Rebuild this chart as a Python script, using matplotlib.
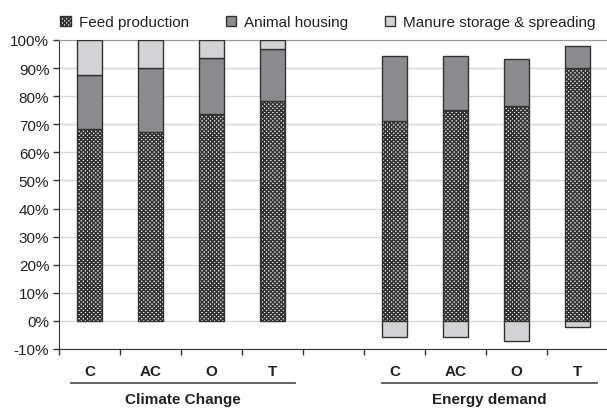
import matplotlib
matplotlib.use("Agg")
import matplotlib.pyplot as plt
import numpy as np

plt.rcParams["font.family"] = ["Liberation Sans", "DejaVu Sans"]
plt.rcParams["hatch.linewidth"] = 1.1
plt.rcParams["hatch.color"] = "#333333"

# slot 4 is an empty spacer between the two groups
categories = ["C", "AC", "O", "T", "", "C", "AC", "O", "T"]
groups = ["Climate Change", "Energy demand"]
feed = [68.2, 67.1, 73.7, 78.3, 0, 71.2, 75.2, 76.5, 90.2]
housing = [19.4, 22.8, 19.8, 18.5, 0, 23.0, 19.0, 16.7, 7.7]
manure = [12.4, 10.1, 6.5, 3.2, 0, -5.8, -5.8, -7.1, -2.3]
yticks = [-10, 0, 10, 20, 30, 40, 50, 60, 70, 80, 90, 100]

fig = plt.figure(figsize=(6.07, 4.10), dpi=100)
ax = fig.add_axes([59 / 607, 60 / 410, 549 / 607, 309 / 410])

x = np.arange(len(categories))
idx = [i for i, c in enumerate(categories) if c]
xs = x[idx]
f = np.array(feed)[idx]
h = np.array(housing)[idx]
m = np.array(manure)[idx]
w = 0.42
edge = "#333333"

ax.bar(xs, f, w, color="#eeeeee", hatch="xxxxxxxx", edgecolor=edge, linewidth=1.0,
       label="Feed production", zorder=3)
ax.bar(xs, h, w, bottom=f, color="#8b8b8f", edgecolor=edge, linewidth=1.0,
       label="Animal housing", zorder=3)
# manure stacks on top when positive, below zero when negative
mb = np.where(m >= 0, f + h, 0)
ax.bar(xs, m, w, bottom=mb, color="#d3d3d5", edgecolor=edge, linewidth=1.0,
       label="Manure storage & spreading", zorder=3)

ax.set_xlim(-0.5, len(categories) - 0.5)
ax.set_ylim(-10, 100)
ax.set_yticks(yticks)
ax.set_yticklabels([f"{v}%" for v in yticks], fontsize=11, color="#222222")
ax.yaxis.grid(True, color="#d9d9d9", linewidth=1.0, zorder=0)
ax.set_axisbelow(True)

ax.set_xticks(np.arange(len(categories) + 1) - 0.5)
ax.set_xticklabels([])
ax.tick_params(axis="x", direction="out", length=4, width=1, color=edge)
ax.tick_params(axis="y", direction="out", length=4, width=1, color=edge, pad=3)

ax.spines["right"].set_visible(False)
ax.spines["top"].set_color("#9a9a9a")
ax.spines["left"].set_color(edge)
ax.spines["bottom"].set_color(edge)

tr = ax.get_xaxis_transform()
for xi in idx:
    ax.text(xi, -0.071, categories[xi], transform=tr, ha="center", va="center",
            fontsize=11, fontweight="bold", color="#222222")

spans = [(-0.3, 3.37), (4.8, 8.32)]
for (a, b), g in zip(spans, groups):
    ax.plot([a, b], [-0.110, -0.110], transform=tr, color="#555555", lw=1.3,
            clip_on=False)
    ax.text((a + b) / 2, -0.162, g, transform=tr, ha="center", va="center",
            fontsize=11, fontweight="bold", color="#222222")

leg = ax.legend(loc="lower center", bbox_to_anchor=(0.49, 1.0), ncol=3, frameon=False,
                fontsize=11, handlelength=0.7, handleheight=0.7, handletextpad=0.5,
                columnspacing=2.4, borderaxespad=0.3)
for t in leg.get_texts():
    t.set_color("#222222")

fig.savefig("out.png", dpi=100)
